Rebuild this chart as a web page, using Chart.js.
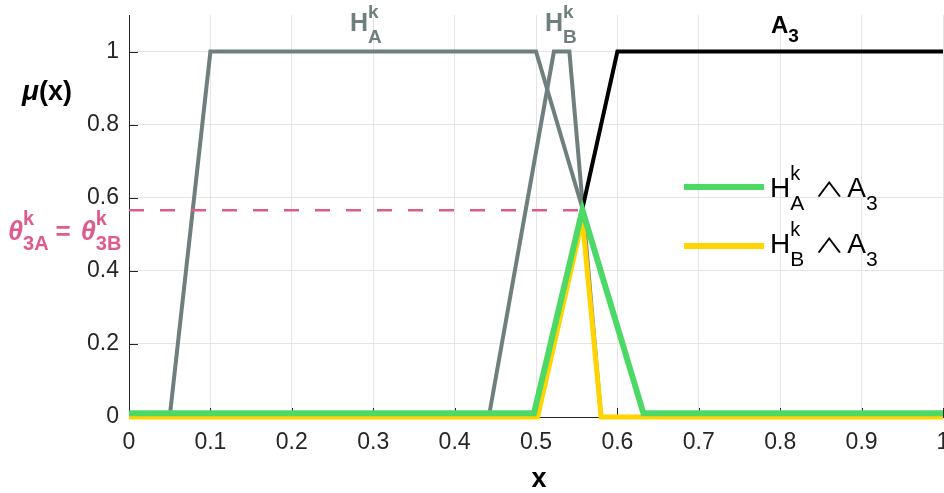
<!DOCTYPE html>
<html>
<head>
<meta charset="utf-8">
<script src="https://cdn.jsdelivr.net/npm/chart.js@4.4.0/dist/chart.umd.min.js"></script>
<style>
html, body { margin: 0; padding: 0; background: #fff; }
</style>
</head>
<body>
<canvas id="fuzzyChart" width="944" height="493"></canvas>
<script>
// tick values
const xTicks = [0, 0.1, 0.2, 0.3, 0.4, 0.5, 0.6, 0.7, 0.8, 0.9, 1];
const yTicks = [0, 0.2, 0.4, 0.6, 0.8, 1];

// membership functions (x, mu)
const hAX = [0, 0.05, 0.1, 0.5, 0.633, 1];
const hAY = [0, 0, 1, 1, 0, 0];
const hBX = [0, 0.442, 0.522, 0.541, 0.58, 1];
const hBY = [0, 0, 1, 1, 0, 0];
const a3X = [0, 0.5, 0.6, 1];
const a3Y = [0, 0, 1, 1];
const greenX = [0, 0.4975, 0.557, 0.632, 1];
const greenY = [0.01, 0.01, 0.566, 0.01, 0.01];
const yellowX = [0, 0.502, 0.557, 0.58, 1];
const yellowY = [0, 0, 0.54, 0, 0];
const thetaX = [0, 0.557];
const thetaY = [0.566, 0.566];

const GRAY = '#6f7f7d';
const PINK = '#df5b8c';
const GREEN = '#4dd965';
const YELLOW = '#ffd400';
const TXT = '#262626';
const FONT = "'Liberation Sans', 'DejaVu Sans', sans-serif";

function pts(xs, ys) {
    return xs.map((x, i) => ({ x: x, y: ys[i] }));
}

function line(data, color, width, dash) {
    return {
        data: data,
        showLine: true,
        borderColor: color,
        backgroundColor: color,
        borderWidth: width,
        borderDash: dash || [],
        pointRadius: 0,
        fill: false,
        tension: 0,
        clip: false
    };
}

// draws text with sub/superscripts; a part with hold:true doesn't advance x
function drawRich(ctx, x, y, parts, color) {
    ctx.fillStyle = color;
    ctx.textAlign = 'left';
    ctx.textBaseline = 'alphabetic';
    let cx = x, held = 0;
    parts.forEach(p => {
        ctx.font = p.font;
        ctx.save();
        ctx.translate(cx, y + (p.dy || 0));
        ctx.scale(1, p.sy || 1);
        ctx.fillText(p.text, 0, 0);
        ctx.restore();
        const w = ctx.measureText(p.text).width;
        if (p.hold) {
            held = w;
        } else {
            cx += Math.max(w, held) + (p.gap || 0);
            held = 0;
        }
    });
}

const annotations = {
    id: 'annotations',
    beforeDatasetsDraw(chart) {
        // inward tick marks
        const ctx = chart.ctx;
        const a = chart.chartArea;
        const xs = chart.scales.x, ys = chart.scales.y;
        ctx.save();
        ctx.strokeStyle = TXT;
        ctx.lineWidth = 1;
        ctx.beginPath();
        xTicks.forEach(v => {
            const px = Math.round(xs.getPixelForValue(v)) + 0.5;
            ctx.moveTo(px, a.bottom);
            ctx.lineTo(px, a.bottom - 9);
        });
        yTicks.forEach(v => {
            const py = Math.round(ys.getPixelForValue(v)) + 0.5;
            ctx.moveTo(a.left, py);
            ctx.lineTo(a.left + 9, py);
        });
        ctx.stroke();
        ctx.restore();
    },
    afterDraw(chart) {
        const ctx = chart.ctx;
        ctx.save();
        const b = 'bold ';
        // curve labels
        drawRich(ctx, 350, 31, [
            { text: 'H', font: b + '25px ' + FONT },
            { text: 'k', font: b + '19px ' + FONT, dy: -13, hold: true },
            { text: 'A', font: b + '19px ' + FONT, dy: 12 }
        ], GRAY);
        drawRich(ctx, 545, 31, [
            { text: 'H', font: b + '25px ' + FONT },
            { text: 'k', font: b + '19px ' + FONT, dy: -13, hold: true },
            { text: 'B', font: b + '19px ' + FONT, dy: 12 }
        ], GRAY);
        drawRich(ctx, 771, 33, [
            { text: 'A', font: b + '24px ' + FONT },
            { text: '3', font: b + '19px ' + FONT, dy: 9 }
        ], '#000');

        // y label
        drawRich(ctx, 22, 100, [
            { text: '\u03bc', font: 'bold italic 28px ' + FONT },
            { text: '(x)', font: b + '27px ' + FONT }
        ], '#000');

        // theta label
        drawRich(ctx, 8, 240, [
            { text: '\u03b8', font: 'bold italic 27px ' + FONT },
            { text: 'k', font: b + '20px ' + FONT, dy: -15, hold: true },
            { text: '3A', font: b + '20px ' + FONT, dy: 10, gap: 7 },
            { text: '=', font: b + '26px ' + FONT, gap: 10 },
            { text: '\u03b8', font: 'bold italic 27px ' + FONT },
            { text: 'k', font: b + '20px ' + FONT, dy: -15, hold: true },
            { text: '3B', font: b + '20px ' + FONT, dy: 10 }
        ], PINK);

        // x label
        ctx.font = b + '27px ' + FONT;
        ctx.fillStyle = '#000';
        ctx.textAlign = 'center';
        ctx.fillText('x', 539, 487);

        // legend
        const rows = [
            { color: GREEN, y: 187, base: 197, sub: 'A' },
            { color: YELLOW, y: 246, base: 253, sub: 'B' }
        ];
        rows.forEach(r => {
            ctx.strokeStyle = r.color;
            ctx.lineWidth = 6;
            ctx.beginPath();
            ctx.moveTo(684, r.y);
            ctx.lineTo(764, r.y);
            ctx.stroke();
            drawRich(ctx, 770, r.base, [
                { text: 'H', font: '28px ' + FONT },
                { text: 'k', font: '20px ' + FONT, dy: -17, hold: true },
                { text: r.sub, font: '21px ' + FONT, dy: 13, gap: 10 },
                { text: '\u2227', font: "400 30px 'Noto Sans CJK JP', sans-serif", sy: 0.68, gap: 3 },
                { text: 'A', font: '28px ' + FONT },
                { text: '3', font: '21px ' + FONT, dy: 13 }
            ], '#000');
        });
        ctx.restore();
    }
};

const ctx = document.getElementById('fuzzyChart').getContext('2d');

const config = {
    type: 'scatter',
    data: {
        datasets: [
            line(pts(greenX, greenY), GREEN, 6),
            line(pts(yellowX, yellowY), YELLOW, 5),
            line(pts(thetaX, thetaY), PINK, 2.5, [15, 16]),
            line(pts(a3X, a3Y), '#000', 4),
            line(pts(hAX, hAY), GRAY, 4),
            line(pts(hBX, hBY), GRAY, 4)
        ]
    },
    options: {
        responsive: false,
        animation: false,
        layout: { padding: { top: 15, right: 1, left: 0, bottom: 0 } },
        plugins: {
            legend: { display: false },
            tooltip: { enabled: false }
        },
        scales: {
            x: {
                type: 'linear',
                min: 0,
                max: 1,
                afterBuildTicks: s => { s.ticks = xTicks.map(v => ({ value: v })); },
                afterFit: s => { s.height = 76; s.paddingLeft = 0; s.paddingRight = 0; },
                ticks: {
                    autoSkip: false,
                    maxRotation: 0,
                    padding: 12,
                    color: TXT,
                    font: { family: FONT, size: 23 },
                    callback: v => String(Math.round(v * 10) / 10)
                },
                grid: { color: '#e5e5e5', lineWidth: 1, drawTicks: false },
                border: { color: TXT, width: 1 }
            },
            y: {
                type: 'linear',
                min: 0,
                max: 1.1,
                afterBuildTicks: s => { s.ticks = yTicks.map(v => ({ value: v })); },
                afterFit: s => { s.width = 129; s.paddingTop = 0; s.paddingBottom = 0; },
                ticks: {
                    padding: 10,
                    color: TXT,
                    font: { family: FONT, size: 23 },
                    callback: v => String(Math.round(v * 10) / 10)
                },
                grid: { color: '#e5e5e5', lineWidth: 1, drawTicks: false },
                border: { color: TXT, width: 1 }
            }
        }
    },
    plugins: [annotations]
};

const fuzzyChart = new Chart(ctx, config);
</script>
</body>
</html>
